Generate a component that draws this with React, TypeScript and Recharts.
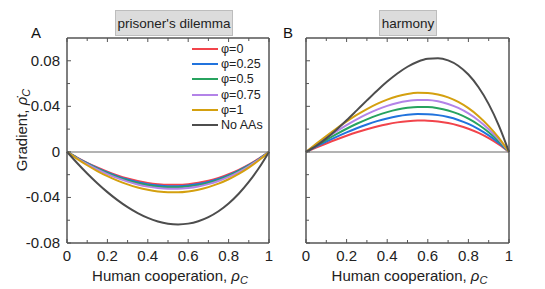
import { LineChart, Line, XAxis, YAxis, ReferenceLine, Legend } from 'recharts';

// human cooperation level
const rho = [0, 0.05, 0.1, 0.15, 0.2, 0.25, 0.3, 0.35, 0.4, 0.45, 0.5, 0.55, 0.6, 0.65, 0.7, 0.75, 0.8, 0.85, 0.9, 0.95, 1];

// prisoner's dilemma gradients
const pdPhi0 = [0, -0.005, -0.00957, -0.01371, -0.01739, -0.02059, -0.02331, -0.02552, -0.0272, -0.02833, -0.02891, -0.02891, -0.02832, -0.0271, -0.02526, -0.02278, -0.01962, -0.01579, -0.01125, -0.00599, 0];
const pdPhi025 = [0, -0.00521, -0.00997, -0.01428, -0.01812, -0.02146, -0.02429, -0.0266, -0.02835, -0.02953, -0.03014, -0.03013, -0.02951, -0.02825, -0.02633, -0.02374, -0.02045, -0.01645, -0.01172, -0.00624, 0];
const pdPhi05 = [0, -0.00538, -0.01031, -0.01476, -0.01872, -0.02218, -0.0251, -0.02748, -0.02929, -0.03051, -0.03114, -0.03113, -0.03049, -0.02919, -0.02721, -0.02453, -0.02113, -0.017, -0.01211, -0.00645, 0];
const pdPhi075 = [0, -0.0056, -0.01073, -0.01537, -0.01949, -0.02309, -0.02613, -0.02861, -0.03049, -0.03177, -0.03241, -0.03241, -0.03175, -0.03039, -0.02833, -0.02554, -0.022, -0.0177, -0.01261, -0.00672, 0];
const pdPhi1 = [0, -0.00612, -0.01172, -0.01679, -0.0213, -0.02523, -0.02855, -0.03126, -0.03331, -0.03471, -0.03542, -0.03542, -0.03469, -0.0332, -0.03095, -0.0279, -0.02404, -0.01934, -0.01378, -0.00734, 0];
const pdNoAA = [0, -0.00975, -0.01894, -0.02749, -0.03533, -0.04238, -0.04855, -0.05378, -0.05798, -0.06108, -0.063, -0.06366, -0.06298, -0.06088, -0.05729, -0.05213, -0.04531, -0.03677, -0.02642, -0.01419, 0];

// harmony gradients
const hmPhi0 = [0, 0.00375, 0.0074, 0.01089, 0.01418, 0.01722, 0.01995, 0.02236, 0.02435, 0.02591, 0.02697, 0.0275, 0.02742, 0.02673, 0.02534, 0.02324, 0.02034, 0.01662, 0.01202, 0.0065, 0];
const hmPhi025 = [0, 0.00453, 0.00893, 0.01315, 0.01712, 0.02079, 0.0241, 0.027, 0.0294, 0.03128, 0.03256, 0.0332, 0.03311, 0.03228, 0.0306, 0.02806, 0.02456, 0.02006, 0.01451, 0.00785, 0];
const hmPhi05 = [0, 0.00538, 0.01061, 0.01562, 0.02033, 0.02469, 0.02861, 0.03206, 0.03491, 0.03715, 0.03867, 0.03943, 0.03932, 0.03833, 0.03634, 0.03332, 0.02916, 0.02383, 0.01723, 0.00932, 0];
const hmPhi075 = [0, 0.00623, 0.01228, 0.01808, 0.02354, 0.02859, 0.03313, 0.03712, 0.04043, 0.04301, 0.04477, 0.04565, 0.04553, 0.04439, 0.04208, 0.03858, 0.03377, 0.02759, 0.01995, 0.01079, 0];
const hmPhi1 = [0, 0.00708, 0.01396, 0.02055, 0.02675, 0.03249, 0.03765, 0.04218, 0.04594, 0.04888, 0.05088, 0.05188, 0.05174, 0.05044, 0.04782, 0.04384, 0.03837, 0.03135, 0.02267, 0.01226, 0];
const hmNoAA = [0, 0.00527, 0.01186, 0.01947, 0.02778, 0.03647, 0.04523, 0.05376, 0.06173, 0.06883, 0.07475, 0.07918, 0.08179, 0.08229, 0.08035, 0.07566, 0.0679, 0.05678, 0.04196, 0.02314, 0];

const seriesNames = ['φ=0', 'φ=0.25', 'φ=0.5', 'φ=0.75', 'φ=1', 'No AAs'];
const seriesColors = ['#f2444b', '#2173dd', '#27a35f', '#b383e8', '#d4a00f', '#4d4d4d'];

const xTicks = [0, 0.1, 0.2, 0.3, 0.4, 0.5, 0.6, 0.7, 0.8, 0.9, 1];
const yTicks = [-0.08, -0.06, -0.04, -0.02, 0, 0.02, 0.04, 0.06, 0.08, 0.1];

const FONT = '"Liberation Sans", Arial, Helvetica, sans-serif';
const FRAME = '#555';

function buildRows(series: number[][]) {
  return rho.map((r, i) => {
    const row: Record<string, number> = { rho: r };
    series.forEach((s, k) => {
      row['s' + k] = s[i];
    });
    return row;
  });
}

const pdRows = buildRows([pdPhi0, pdPhi025, pdPhi05, pdPhi075, pdPhi1, pdNoAA]);
const hmRows = buildRows([hmPhi0, hmPhi025, hmPhi05, hmPhi075, hmPhi1, hmNoAA]);

const isMajorX = (v: number) => Math.round(v * 10) % 2 === 0;
const isMajorY = (v: number) => Math.round(v * 100) % 4 === 0 && Math.abs(v) < 0.09;
const fmtX = (v: number) => (v === 0 || v === 1 ? String(v) : v.toFixed(1));
const fmtY = (v: number) => (v === 0 ? '0' : v.toFixed(2));

function makeTick(side: 'left' | 'right' | 'top' | 'bottom', labels: boolean) {
  return (props: any) => {
    const { x, y, payload } = props;
    const v = payload.value as number;
    const vertical = side === 'left' || side === 'right';
    if (vertical && v > 0.09) return <g />;
    const major = vertical ? isMajorY(v) : isMajorX(v);
    const len = major ? 4 : 3;
    let line;
    if (side === 'left') line = <line x1={x} x2={x + len} y1={y} y2={y} stroke={FRAME} strokeWidth={1} />;
    else if (side === 'right') line = <line x1={x} x2={x - len} y1={y} y2={y} stroke={FRAME} strokeWidth={1} />;
    else if (side === 'top') line = <line x1={x} x2={x} y1={y} y2={y + len} stroke={FRAME} strokeWidth={1} />;
    else line = <line x1={x} x2={x} y1={y} y2={y - len} stroke={FRAME} strokeWidth={1} />;
    let text = null;
    if (labels && major && side === 'left') {
      text = (
        <text x={x - 7} y={y} dy={5} textAnchor="end" fontSize={15} fill="#222" fontFamily={FONT}>
          {fmtY(v)}
        </text>
      );
    }
    if (labels && major && side === 'bottom') {
      text = (
        <text x={x} y={y + 18} textAnchor="middle" fontSize={15} fill="#222" fontFamily={FONT}>
          {fmtX(v)}
        </text>
      );
    }
    return (
      <g>
        {line}
        {text}
      </g>
    );
  };
}

function XLabel(props: any) {
  const { viewBox } = props;
  const cx = viewBox.x + viewBox.width / 2;
  return (
    <text x={cx + 2} y={viewBox.y + 38} textAnchor="middle" fontSize={15} fill="#222" fontFamily={FONT}>
      Human cooperation,{' '}
      <tspan fontStyle="italic">ρ</tspan>
      <tspan fontStyle="italic" fontSize={11} dy={3}>C</tspan>
    </text>
  );
}

function YLabel() {
  const tx = 27;
  const ty = 130;
  return (
    <text x={tx} y={ty} transform={`rotate(-90, ${tx}, ${ty})`} textAnchor="middle" fontSize={15} fill="#222" fontFamily={FONT}>
      Gradient,{' '}
      <tspan fontStyle="italic">{'ρ\u0307'}</tspan>
      <tspan fontStyle="italic" fontSize={11} dy={3}>C</tspan>
    </text>
  );
}

function LegendBox(props: any) {
  const items = [...(props.payload || [])].sort(
    (a: any, b: any) => seriesNames.indexOf(a.value) - seriesNames.indexOf(b.value)
  );
  return (
    <div style={{ fontFamily: FONT, fontSize: 12.5, color: '#222' }}>
      {items.map((e: any) => (
        <div key={e.value} style={{ display: 'flex', alignItems: 'center', height: 15.3, whiteSpace: 'nowrap' }}>
          <svg width={29} height={4} style={{ display: 'block' }}>
            <line x1={0} x2={26} y1={2} y2={2} stroke={e.color} strokeWidth={2} />
          </svg>
          <span>{e.value}</span>
        </div>
      ))}
    </div>
  );
}

function Panel(props: { rows: any[]; width: number; leftWidth: number; right: number; first: boolean }) {
  const { rows, width, leftWidth, right, first } = props;
  return (
    <LineChart width={width} height={289} data={rows} margin={{ top: 37, right: right, bottom: 0, left: 0 }}>
      <XAxis
        dataKey="rho"
        type="number"
        domain={[0, 1]}
        ticks={xTicks}
        interval={0}
        height={46}
        tickSize={0}
        tickMargin={0}
        tick={makeTick('bottom', true)}
        axisLine={{ stroke: FRAME, strokeWidth: 1.5 }}
        label={<XLabel />}
      />
      <XAxis
        xAxisId="top"
        orientation="top"
        dataKey="rho"
        type="number"
        domain={[0, 1]}
        ticks={xTicks}
        interval={0}
        height={1}
        tickSize={0}
        tickMargin={0}
        tick={makeTick('top', false)}
        axisLine={{ stroke: FRAME, strokeWidth: 1.5 }}
      />
      <YAxis
        type="number"
        domain={[-0.08, 0.1]}
        ticks={yTicks}
        interval={0}
        width={leftWidth}
        tickSize={0}
        tickMargin={0}
        tick={makeTick('left', first)}
        axisLine={{ stroke: FRAME, strokeWidth: 1.5 }}
        label={first ? <YLabel /> : undefined}
      />
      <YAxis
        yAxisId="right"
        orientation="right"
        type="number"
        domain={[-0.08, 0.1]}
        ticks={yTicks}
        interval={0}
        width={1}
        tickSize={0}
        tickMargin={0}
        tick={makeTick('right', false)}
        axisLine={{ stroke: FRAME, strokeWidth: 1.5 }}
      />
      <ReferenceLine y={0} stroke="#9a9a9a" strokeWidth={1.5} />
      {seriesNames.map((name, k) => (
        <Line
          key={name}
          type="monotone"
          dataKey={'s' + k}
          name={name}
          stroke={seriesColors[k]}
          strokeWidth={2}
          dot={false}
          isAnimationActive={false}
        />
      ))}
      {first && (
        <Legend
          layout="vertical"
          align="center"
          verticalAlign="middle"
          wrapperStyle={{ top: 41, left: 192, width: 80 }}
          content={<LegendBox />}
        />
      )}
    </LineChart>
  );
}

const titleBox: React.CSSProperties = {
  position: 'absolute',
  top: 10,
  height: 26,
  background: '#dcdcdc',
  border: '1px solid #bdbdbd',
  fontFamily: FONT,
  fontSize: 13.5,
  color: '#222',
  display: 'flex',
  alignItems: 'center',
  justifyContent: 'center',
  boxSizing: 'border-box',
  whiteSpace: 'nowrap',
};

const panelLetter: React.CSSProperties = {
  position: 'absolute',
  top: 24,
  fontFamily: FONT,
  fontSize: 15,
  color: '#111',
};

export default function App() {
  return (
    <div style={{ position: 'absolute', left: 0, top: 0, width: 545, height: 289, background: '#fff' }}>
      <div style={{ position: 'absolute', left: 0, top: 0 }}>
        <Panel rows={pdRows} width={280} leftWidth={67} right={10} first={true} />
      </div>
      <div style={{ position: 'absolute', left: 280, top: 0 }}>
        <Panel rows={hmRows} width={265} leftWidth={26} right={35} first={false} />
      </div>
      <div style={{ ...titleBox, left: 115, width: 118 }}>prisoner's dilemma</div>
      <div style={{ ...titleBox, left: 379, width: 58 }}>harmony</div>
      <div style={{ ...panelLetter, left: 31 }}>A</div>
      <div style={{ ...panelLetter, left: 283 }}>B</div>
    </div>
  );
}
